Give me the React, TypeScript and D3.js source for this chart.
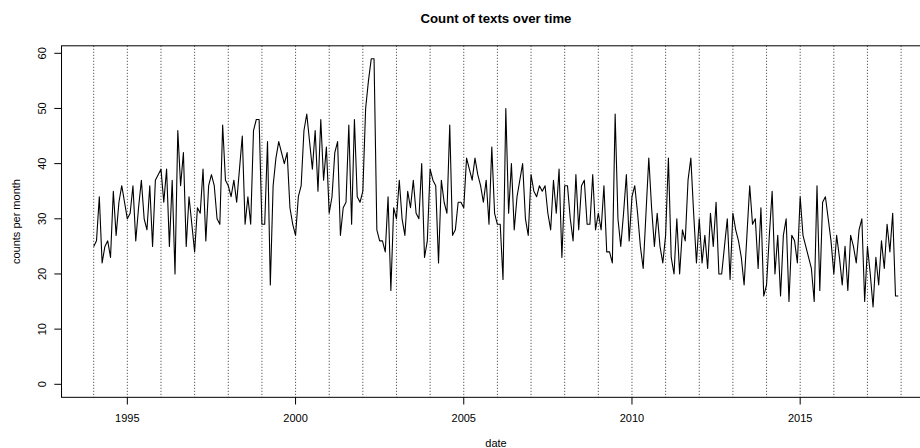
import React from "react";
import * as d3 from "d3";

// monthly counts, Jan 1994 .. Dec 2017 (one row per year)
const monthlyCounts = [
  25, 26, 34, 22, 25, 26, 23, 35, 27, 33, 36, 33,
  30, 31, 36, 26, 32, 37, 30, 28, 36, 25, 37, 38,
  39, 33, 39, 25, 37, 20, 46, 36, 42, 25, 34, 29,
  24, 32, 31, 39, 26, 36, 38, 36, 30, 29, 47, 37,
  36, 34, 37, 33, 39, 45, 29, 34, 29, 46, 48, 48,
  29, 29, 44, 18, 36, 41, 44, 42, 40, 42, 32, 29,
  27, 34, 36, 46, 49, 44, 39, 46, 35, 48, 37, 43,
  31, 34, 42, 44, 27, 32, 33, 47, 29, 48, 34, 33,
  35, 50, 55, 59, 59, 28, 26, 26, 24, 34, 17, 32,
  30, 37, 30, 27, 35, 32, 37, 31, 30, 40, 23, 26,
  39, 37, 36, 22, 37, 33, 31, 47, 27, 28, 33, 33,
  32, 41, 39, 37, 41, 38, 36, 33, 37, 29, 43, 31,
  29, 29, 19, 50, 31, 40, 28, 34, 37, 40, 30, 27,
  38, 35, 34, 36, 35, 36, 31, 28, 37, 31, 39, 23,
  36, 36, 30, 26, 38, 28, 36, 37, 29, 29, 38, 28,
  31, 28, 36, 24, 24, 22, 49, 30, 25, 31, 38, 26,
  34, 36, 31, 25, 21, 31, 41, 32, 25, 31, 25, 22,
  27, 41, 23, 20, 30, 20, 28, 26, 37, 41, 31, 22,
  30, 22, 27, 21, 31, 25, 33, 20, 20, 25, 30, 19,
  31, 28, 26, 23, 18, 27, 36, 29, 30, 21, 32, 16,
  18, 27, 35, 20, 27, 16, 27, 30, 15, 27, 26, 22,
  34, 27, 25, 23, 21, 15, 36, 17, 33, 34, 30, 26,
  20, 27, 23, 18, 25, 17, 27, 25, 22, 28, 30, 15,
  25, 20, 14, 23, 18, 26, 21, 29, 24, 31, 16, 16,
];
const startYear = 1994;
const gridYears = d3.range(1994, 2019);
const yearTicks = [1995, 2000, 2005, 2010, 2015];
const countTicks = [0, 10, 20, 30, 40, 50, 60];

const title = "Count of texts over time";
const xLabel = "date";
const yLabel = "counts per month";

const W = 920;
const H = 448;
const font = "'Liberation Sans', Arial, Helvetica, sans-serif";

export default function App() {
  const points = monthlyCounts.map((v, i) => ({ t: startYear + i / 12, v }));
  const t0 = points[0].t;
  const t1 = points[points.length - 1].t;
  const padT = (t1 - t0) * 0.04;
  const vMax = d3.max(monthlyCounts) as number;
  const padV = vMax * 0.04;

  // R-style usr extents (4% expansion)
  const x = d3.scaleLinear().domain([t0, t1]).range([93.7, 898.3]);
  const y = d3.scaleLinear().domain([0, 60]).range([384.3, 53.3]);

  const left = x(t0 - padT);
  const right = x(t1 + padT);
  const top = y(vMax + padV);
  const bottom = y(-padV);

  const line = d3
    .line<{ t: number; v: number }>()
    .x((d) => x(d.t))
    .y((d) => y(d.v));

  const midX = (left + right) / 2;
  const midY = (top + bottom) / 2;

  return (
    <svg
      width={W}
      height={H}
      style={{ position: "absolute", left: 0, top: 0, background: "#fff" }}
      fontFamily={font}
    >
      <defs>
        <clipPath id="plot">
          <rect x={left} y={top} width={right - left} height={bottom - top} />
        </clipPath>
      </defs>

      {/* yearly dotted guides */}
      {gridYears.map((yr) => (
        <line
          key={yr}
          x1={x(yr)}
          x2={x(yr)}
          y1={top}
          y2={bottom}
          stroke="#333"
          strokeWidth={1}
          strokeDasharray="1,2"
        />
      ))}

      <path
        d={line(points) as string}
        fill="none"
        stroke="#000"
        strokeWidth={1.1}
        strokeLinejoin="round"
        clipPath="url(#plot)"
      />

      {/* box */}
      <rect x={left} y={top} width={right - left} height={bottom - top} fill="none" stroke="#000" />

      {/* x axis */}
      {yearTicks.map((yr) => (
        <g key={yr}>
          <line x1={x(yr)} x2={x(yr)} y1={bottom} y2={bottom + 7.2} stroke="#000" />
          <text x={x(yr)} y={422.3} fontSize={11} textAnchor="middle">
            {yr}
          </text>
        </g>
      ))}

      {/* y axis */}
      {countTicks.map((c) => (
        <g key={c}>
          <line x1={left} x2={left - 7.2} y1={y(c)} y2={y(c)} stroke="#000" />
          <text
            transform={`translate(45.5,${y(c)}) rotate(-90)`}
            fontSize={11}
            textAnchor="middle"
          >
            {c}
          </text>
        </g>
      ))}

      <text x={midX} y={22.7} fontSize={13.2} fontWeight="bold" textAnchor="middle">
        {title}
      </text>
      <text x={midX} y={446.5} fontSize={11} textAnchor="middle">
        {xLabel}
      </text>
      <text transform={`translate(20,${midY}) rotate(-90)`} fontSize={11} textAnchor="middle">
        {yLabel}
      </text>
    </svg>
  );
}
